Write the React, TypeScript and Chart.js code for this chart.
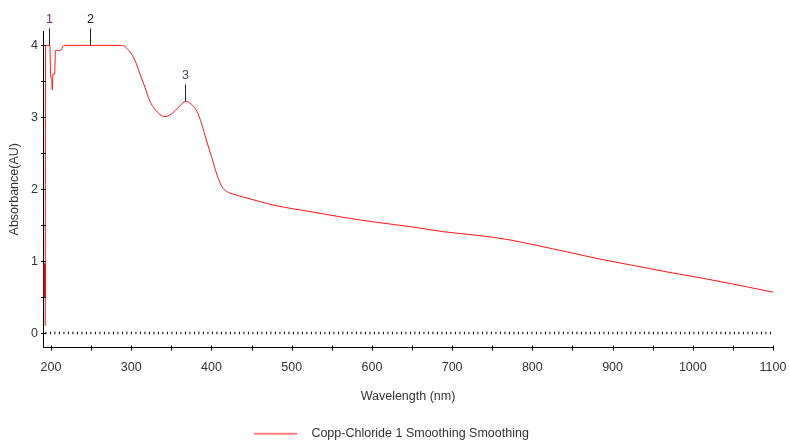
import React, { useEffect, useRef } from 'react';
import { Chart, registerables } from 'chart.js';

Chart.register(...registerables);

const seriesLabel = 'Copp-Chloride 1 Smoothing Smoothing';

const wavelengths = [
  192.8, 193.2, 198.5, 199.5, 201, 201.6, 202.3, 204.5, 205.5, 212, 216, 288,
  298.5, 304.7, 311, 317, 323, 329.6, 335.8, 342, 348, 354.6, 360.8, 368, 375,
  381.6, 388, 394, 400.4, 406.6, 412.8, 419, 428, 440, 460, 481, 523, 564, 606, 648,
  689, 731, 770, 801, 843, 884, 926, 968, 1009, 1051, 1100,
];
const absorbance = [
  0.1, 4.0, 4.0, 3.6, 3.5, 3.38, 3.6, 3.6, 3.93, 3.93, 4.0, 4.0,
  3.91, 3.79, 3.6, 3.42, 3.23, 3.11, 3.04, 3.01, 3.03, 3.09, 3.16, 3.22, 3.18,
  3.09, 2.9, 2.67, 2.44, 2.21, 2.04, 1.97, 1.93, 1.89, 1.83, 1.77, 1.69, 1.61, 1.54, 1.48,
  1.41, 1.36, 1.3, 1.23, 1.13, 1.03, 0.94, 0.85, 0.77, 0.68, 0.57,
];

const spikeWavelengths = [192.2, 192.2];
const spikeAbsorbance = [0.5, 0.97];

const baselineWavelengths = [193, 1100];
const baselineAbsorbance = [0, 0];

const xTickValues = [200, 250, 300, 350, 400, 450, 500, 550, 600, 650, 700, 750, 800, 850, 900, 950, 1000, 1050, 1100];
const yTickValues = [0, 0.5, 1, 1.5, 2, 2.5, 3, 3.5, 4];

const peakNames = ['1', '2', '3'];
const peakWavelengths = [198, 249, 367];
const peakAbsorbance = [4.0, 4.0, 3.22];
const peakColors = ['#6b2a86', '#222222', '#3d4a66'];

const FONT = '"Liberation Sans", Arial, sans-serif';
const TEXT = '#333333';

function makeLegendSymbol(): HTMLCanvasElement {
  const c = document.createElement('canvas');
  c.width = 61;
  c.height = 4;
  const g = c.getContext('2d');
  if (g) {
    g.strokeStyle = 'rgb(255, 80, 80)';
    g.lineWidth = 1.5;
    g.beginPath();
    g.moveTo(10, 2);
    g.lineTo(53, 2);
    g.stroke();
  }
  return c;
}

const decorations = {
  id: 'decorations',
  afterDraw(chart: any) {
    const { ctx, scales } = chart;
    const xs = scales.x;
    const ys = scales.y;
    const area = chart.chartArea;
    ctx.save();
    ctx.strokeStyle = '#000';
    ctx.lineWidth = 1;
    ctx.beginPath();
    for (const t of xs.ticks) {
      const px = Math.round(xs.getPixelForValue(t.value)) + 0.5;
      ctx.moveTo(px, area.bottom - 2);
      ctx.lineTo(px, area.bottom + 3);
    }
    for (const t of ys.ticks) {
      const py = Math.round(ys.getPixelForValue(t.value)) + 0.5;
      ctx.moveTo(area.left - 2, py);
      ctx.lineTo(area.left + 3, py);
    }
    ctx.stroke();

    ctx.font = `12.5px ${FONT}`;
    ctx.textAlign = 'center';
    ctx.textBaseline = 'middle';
    peakNames.forEach((name, i) => {
      const px = Math.round(xs.getPixelForValue(peakWavelengths[i])) + 0.5;
      const py = ys.getPixelForValue(peakAbsorbance[i]);
      ctx.strokeStyle = '#222';
      ctx.beginPath();
      ctx.moveTo(px, py);
      ctx.lineTo(px, py - 17);
      ctx.stroke();
      ctx.fillStyle = peakColors[i];
      ctx.fillText(name, px, py - 26);
    });
    ctx.restore();
  },
};

export default function App() {
  const ref = useRef<HTMLCanvasElement | null>(null);

  useEffect(() => {
    if (!ref.current) return;
    const symbol = makeLegendSymbol();
    const chart = new Chart(ref.current, {
      type: 'line',
      data: {
        datasets: [
          {
            label: seriesLabel,
            data: wavelengths.map((w, i) => ({ x: w, y: absorbance[i] })),
            borderColor: 'rgb(255, 20, 20)',
            backgroundColor: 'rgb(255, 20, 20)',
            borderWidth: 1,
            pointRadius: 0,
            cubicInterpolationMode: 'monotone',
            fill: false,
          },
          {
            label: 'spike',
            data: spikeWavelengths.map((w, i) => ({ x: w, y: spikeAbsorbance[i] })),
            borderColor: 'rgb(235, 0, 0)',
            borderWidth: 2.5,
            pointRadius: 0,
            fill: false,
          },
          {
            label: 'baseline',
            data: baselineWavelengths.map((w, i) => ({ x: w, y: baselineAbsorbance[i] })),
            borderColor: '#000',
            borderWidth: 2.5,
            borderDash: [1, 3.5],
            pointRadius: 0,
            fill: false,
          },
        ],
      },
      options: {
        animation: false,
        responsive: false,
        devicePixelRatio: 1,
        layout: { padding: { top: 31, right: 16, bottom: -9, left: 0 } },
        plugins: {
          legend: {
            display: true,
            position: 'bottom',
            labels: {
              filter: (item: any) => item.datasetIndex === 0,
              usePointStyle: true,
              pointStyle: symbol,
              pointStyleWidth: 61,
              color: TEXT,
              padding: 10,
              font: { family: FONT, size: 12.5 },
            },
          },
          tooltip: { enabled: false },
        },
        scales: {
          x: {
            type: 'linear',
            min: 190,
            max: 1100,
            afterBuildTicks: (scale: any) => {
              scale.ticks = xTickValues.map((v) => ({ value: v }));
            },
            afterFit: (scale: any) => {
              scale.height = 70;
              scale.paddingLeft = 0;
              scale.paddingRight = 0;
            },
            grid: { display: false, drawTicks: false },
            border: { display: true, color: '#000', width: 1 },
            ticks: {
              autoSkip: false,
              maxRotation: 0,
              padding: 13,
              color: TEXT,
              font: { family: FONT, size: 12.5 },
              callback: (v: any) => (Number(v) % 100 === 0 ? String(v) : ''),
            },
            title: {
              display: true,
              text: 'Wavelength (nm)',
              color: TEXT,
              font: { family: FONT, size: 12.5 },
              padding: { top: 0, bottom: 13.5 },
            },
          },
          y: {
            type: 'linear',
            min: -0.2,
            max: 4.2,
            afterBuildTicks: (scale: any) => {
              scale.ticks = yTickValues.map((v) => ({ value: v }));
            },
            afterFit: (scale: any) => {
              scale.width = 43;
              scale.paddingTop = 0;
              scale.paddingBottom = 0;
            },
            grid: { display: false, drawTicks: false },
            border: { display: true, color: '#000', width: 1 },
            ticks: {
              autoSkip: false,
              padding: 5,
              color: TEXT,
              font: { family: FONT, size: 12.5 },
              callback: (v: any) => (Number.isInteger(Number(v)) ? String(v) : ''),
            },
            title: {
              display: true,
              text: 'Absorbance(AU)',
              color: TEXT,
              font: { family: FONT, size: 12.5 },
              padding: { top: 7.5, bottom: 0 },
            },
          },
        },
      },
      plugins: [decorations],
    } as any);
    return () => chart.destroy();
  }, []);

  return (
    <div style={{ position: 'absolute', left: 0, top: 0, width: 789, height: 441, background: '#fff' }}>
      <canvas ref={ref} width={789} height={441} style={{ display: 'block' }} />
    </div>
  );
}
